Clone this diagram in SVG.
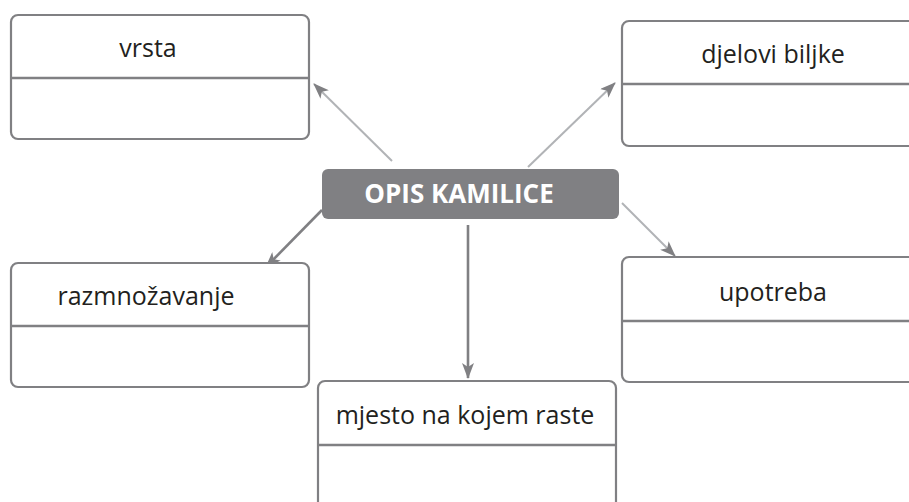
<svg xmlns="http://www.w3.org/2000/svg" width="909" height="502" viewBox="0 0 909 502">
<style>
.box{fill:#fff;stroke:#808083;stroke-width:2.2}
.div{stroke:#808083;stroke-width:2.6}
.lbl{font-family:"Open Sans","Noto Sans",sans-serif;font-size:25px;fill:#231f20;text-anchor:middle}
.title{font-family:"Open Sans","Noto Sans",sans-serif;font-size:26px;font-weight:bold;fill:#fff;text-anchor:middle}
.light{stroke:#b1b3b6;stroke-width:2;fill:none}
.dark{stroke:#808083;stroke-width:2.6;fill:none}
</style>
<defs>
<marker id="ah" viewBox="0 0 16 12" refX="15" refY="6" markerWidth="16" markerHeight="12" markerUnits="userSpaceOnUse" orient="auto">
<path d="M0,0 L16,6 L0,12 L4,6 Z" fill="#808083"/>
</marker>
</defs>
<rect width="909" height="502" fill="#fff"/>
<g id="connectors">
<line class="light" x1="392" y1="161" x2="314" y2="84" marker-end="url(#ah)"/>
<line class="light" x1="528" y1="167" x2="615" y2="83" marker-end="url(#ah)"/>
<line class="dark" x1="322" y1="210" x2="266" y2="267" marker-end="url(#ah)"/>
<line class="light" x1="622" y1="203" x2="675" y2="256" marker-end="url(#ah)"/>
<line class="dark" x1="468" y1="225" x2="468" y2="378" marker-end="url(#ah)"/>
</g>
<g id="center">
<rect x="322" y="169" width="297" height="50" rx="6" fill="#808083"/>
<text class="title" x="459" y="203">OPIS KAMILICE</text>
</g>
<g id="vrsta">
<rect class="box" x="11" y="15" width="298" height="124" rx="7"/>
<line class="div" x1="11" y1="78" x2="309" y2="78"/>
<text class="lbl" x="148" y="57">vrsta</text>
</g>
<g id="djelovi">
<rect class="box" x="622" y="21" width="300" height="125" rx="7"/>
<line class="div" x1="622" y1="84" x2="909" y2="84"/>
<text class="lbl" x="773" y="63">djelovi biljke</text>
</g>
<g id="razmnozavanje">
<rect class="box" x="11" y="263" width="298" height="124" rx="7"/>
<line class="div" x1="11" y1="326" x2="309" y2="326"/>
<text class="lbl" x="146" y="305">razmnožavanje</text>
</g>
<g id="upotreba">
<rect class="box" x="622" y="257" width="300" height="125" rx="7"/>
<line class="div" x1="622" y1="321" x2="909" y2="321"/>
<text class="lbl" x="773" y="301">upotreba</text>
</g>
<g id="mjesto">
<rect class="box" x="318" y="381" width="298" height="140" rx="7"/>
<line class="div" x1="318" y1="445" x2="616" y2="445"/>
<text class="lbl" x="465" y="424">mjesto na kojem raste</text>
</g>
</svg>
